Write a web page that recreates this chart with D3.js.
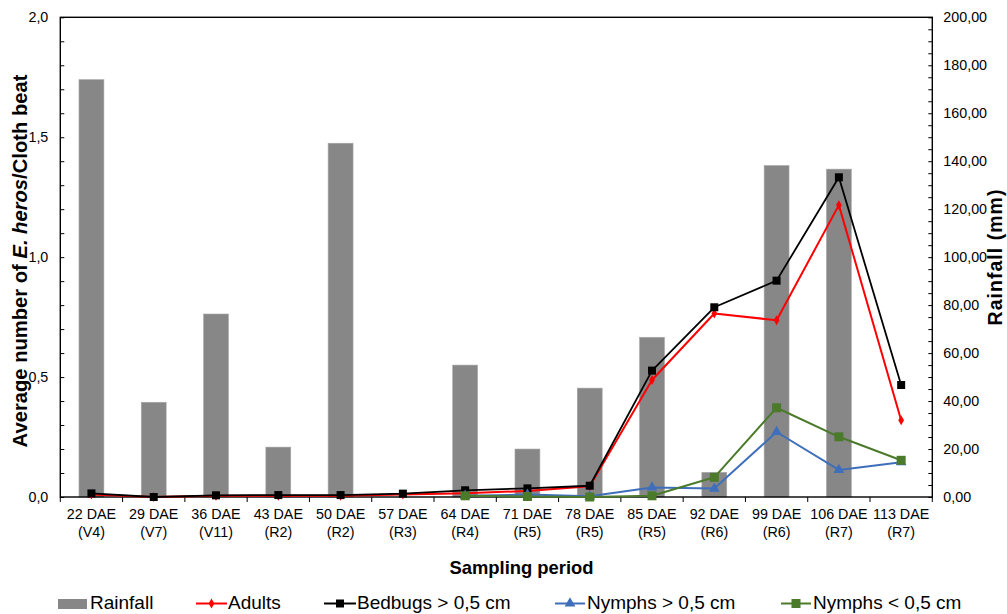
<!DOCTYPE html>
<html>
<head>
<meta charset="utf-8">
<script src="https://cdn.jsdelivr.net/npm/d3@7"></script>
<style>
  html, body { margin: 0; padding: 0; background: #fff; }
  svg { display: block; font-family: "Liberation Sans", Arial, sans-serif; }
</style>
</head>
<body>
<svg id="chart" width="1007" height="614"></svg>
<script>
const categories = ["22 DAE","29 DAE","36 DAE","43 DAE","50 DAE","57 DAE","64 DAE","71 DAE","78 DAE","85 DAE","92 DAE","99 DAE","106 DAE","113 DAE"];
const stages = ["(V4)","(V7)","(V11)","(R2)","(R2)","(R3)","(R4)","(R5)","(R5)","(R5)","(R6)","(R6)","(R7)","(R7)"];
const rainfall = [174.0, 39.5, 76.3, 20.8, 147.5, 0, 55.0, 20.0, 45.4, 66.6, 10.3, 138.2, 136.7, 0];
const adults = [0.010, 0.000, 0.005, 0.005, 0.005, 0.010, 0.016, 0.025, 0.045, 0.488, 0.765, 0.737, 1.217, 0.320];
const bedbugs = [0.015, 0.000, 0.007, 0.008, 0.008, 0.014, 0.028, 0.036, 0.047, 0.527, 0.791, 0.902, 1.333, 0.467];
const nymphsLarge = [null, null, null, null, null, null, 0.005, 0.010, 0.003, 0.040, 0.035, 0.271, 0.113, 0.145];
const nymphsSmall = [null, null, null, null, null, null, 0.005, 0.002, 0.000, 0.005, 0.082, 0.372, 0.251, 0.153];
const leftTicks = [0, 0.5, 1.0, 1.5, 2.0];
const rightTicks = [0, 20, 40, 60, 80, 100, 120, 140, 160, 180, 200];

const svg = d3.select("#chart");
const X0 = 60.3, X1 = 932.3, YT = 17.3, YB = 497;

const x = d3.scaleBand().domain(categories).range([X0, X1]).paddingInner(0).paddingOuter(0);
const yL = d3.scaleLinear().domain([0, 2]).range([YB, YT]);
const yR = d3.scaleLinear().domain([0, 200]).range([YB, YT]);
const cx = d => x(d) + x.bandwidth() / 2;

// Bars
const barW = x.bandwidth() * 0.4;
svg.append("g").selectAll("rect").data(categories.map((c, i) => ({c, v: rainfall[i]})).filter(d => d.v > 0))
  .enter().append("rect")
  .attr("x", d => cx(d.c) - barW / 2)
  .attr("y", d => yR(d.v))
  .attr("width", barW)
  .attr("height", d => YB - yR(d.v))
  .attr("fill", "#878787")
  .attr("stroke", "#a8a8a8").attr("stroke-width", 0.6);

// Axes
const commaFmt = f => v => d3.format(f)(v).replace(".", ",");
const fontTick = "14.3px";

const gL = svg.append("g").attr("transform", `translate(${X0},0)`)
  .call(d3.axisRight(yL).ticks(20).tickSize(4).tickFormat(""));
gL.select(".domain").remove();
gL.selectAll("line").attr("stroke", "#000").attr("stroke-width", 1);
const gLl = svg.append("g").attr("transform", `translate(${X0},0)`)
  .call(d3.axisLeft(yL).tickValues(leftTicks).tickSize(0).tickPadding(12).tickFormat(commaFmt(".1f")));
gLl.select(".domain").remove();
gLl.selectAll("text").attr("font-size", fontTick).attr("fill", "#000").attr("font-family", "Liberation Sans, Arial, sans-serif");

const gR = svg.append("g").attr("transform", `translate(${X1},0)`)
  .call(d3.axisLeft(yR).ticks(40).tickSize(4).tickFormat(""));
gR.select(".domain").remove();
gR.selectAll("line").attr("stroke", "#000").attr("stroke-width", 1);
const gRl = svg.append("g").attr("transform", `translate(${X1},0)`)
  .call(d3.axisRight(yR).tickValues(rightTicks).tickSize(0).tickPadding(11).tickFormat(commaFmt(".2f")));
gRl.select(".domain").remove();
gRl.selectAll("text").attr("font-size", fontTick).attr("fill", "#000").attr("font-family", "Liberation Sans, Arial, sans-serif");

// x ticks at band boundaries
const bounds = categories.map(c => x(c)).concat([X1]);
svg.append("g").selectAll("line").data(bounds).enter().append("line")
  .attr("x1", d => d).attr("x2", d => d).attr("y1", YB).attr("y2", YB + 5)
  .attr("stroke", "#000").attr("stroke-width", 1);

// frame
svg.append("rect").attr("x", X0).attr("y", YT).attr("width", X1 - X0).attr("height", YB - YT)
  .attr("fill", "none").attr("stroke", "#000").attr("stroke-width", 1.4);

// x labels
const xl = svg.append("g").selectAll("text").data(categories).enter().append("text")
  .attr("x", d => cx(d)).attr("text-anchor", "middle").attr("font-size", fontTick).attr("fill", "#000");
xl.append("tspan").attr("x", d => cx(d)).attr("y", 519).text(d => d);
xl.append("tspan").attr("x", d => cx(d)).attr("y", 537).text((d, i) => stages[i]);

// Lines
function drawSeries(vals, color, width, symbol, size) {
  const pts = categories.map((c, i) => ({c, v: vals[i]})).filter(d => d.v !== null);
  const line = d3.line().x(d => cx(d.c)).y(d => yL(d.v));
  svg.append("path").datum(pts).attr("d", line).attr("fill", "none")
    .attr("stroke", color).attr("stroke-width", width).attr("stroke-linejoin", "round");
  svg.append("g").selectAll("path").data(pts).enter().append("path")
    .attr("d", d3.symbol().type(symbol).size(size))
    .attr("transform", d => `translate(${cx(d.c)},${yL(d.v)})`)
    .attr("fill", color);
}
const RED = "#ff0000", BLACK = "#000000", BLUE = "#3f6fba", GREEN = "#4b7a2b";
drawSeries(adults, RED, 2, d3.symbolDiamond, 28);
drawSeries(bedbugs, BLACK, 1.8, d3.symbolSquare, 64);
drawSeries(nymphsLarge, BLUE, 2, d3.symbolTriangle, 50);
drawSeries(nymphsSmall, GREEN, 2, d3.symbolSquare, 81);

// Axis titles
const lt = svg.append("text").attr("transform", "translate(27,261) rotate(-90)")
  .attr("text-anchor", "middle").attr("font-size", "20.2px").attr("font-weight", "bold").attr("fill", "#000");
lt.append("tspan").text("Average number of ");
lt.append("tspan").attr("font-style", "italic").text("E. heros");
lt.append("tspan").text("/Cloth beat");

svg.append("text").attr("transform", "translate(1002,257.5) rotate(-90)")
  .attr("text-anchor", "middle").attr("font-size", "19.5px").attr("font-weight", "bold").attr("fill", "#000")
  .attr("textLength", 136).attr("lengthAdjust", "spacing")
  .text("Rainfall (mm)");

svg.append("text").attr("x", 521.5).attr("y", 574).attr("text-anchor", "middle")
  .attr("font-size", "18.4px").attr("font-weight", "bold").attr("fill", "#000").text("Sampling period");

// Legend
const legendItems = [
  {name: "Rainfall", type: "bar", x0: 58, x1: 87, tx: 90},
  {name: "Adults", type: "line", color: RED, sym: d3.symbolDiamond, size: 28, x0: 196, x1: 227, tx: 228},
  {name: "Bedbugs > 0,5 cm", type: "line", color: BLACK, sym: d3.symbolSquare, size: 64, x0: 324, x1: 356, tx: 357},
  {name: "Nymphs > 0,5 cm", type: "line", color: BLUE, sym: d3.symbolTriangle, size: 50, x0: 555, x1: 585, tx: 587},
  {name: "Nymphs < 0,5 cm", type: "line", color: GREEN, sym: d3.symbolSquare, size: 81, x0: 781, x1: 811, tx: 813}
];
const lg = svg.append("g");
const LY = 603.5;
legendItems.forEach(it => {
  if (it.type === "bar") {
    lg.append("rect").attr("x", it.x0).attr("y", 599).attr("width", it.x1 - it.x0).attr("height", 10).attr("fill", "#878787");
  } else {
    lg.append("line").attr("x1", it.x0).attr("x2", it.x1).attr("y1", LY).attr("y2", LY)
      .attr("stroke", it.color).attr("stroke-width", 2);
    lg.append("path").attr("d", d3.symbol().type(it.sym).size(it.size))
      .attr("transform", `translate(${(it.x0 + it.x1) / 2},${LY})`).attr("fill", it.color);
  }
  lg.append("text").attr("x", it.tx).attr("y", 609.3).attr("font-size", "19px").attr("fill", "#000").text(it.name);
});
</script>
</body>
</html>
